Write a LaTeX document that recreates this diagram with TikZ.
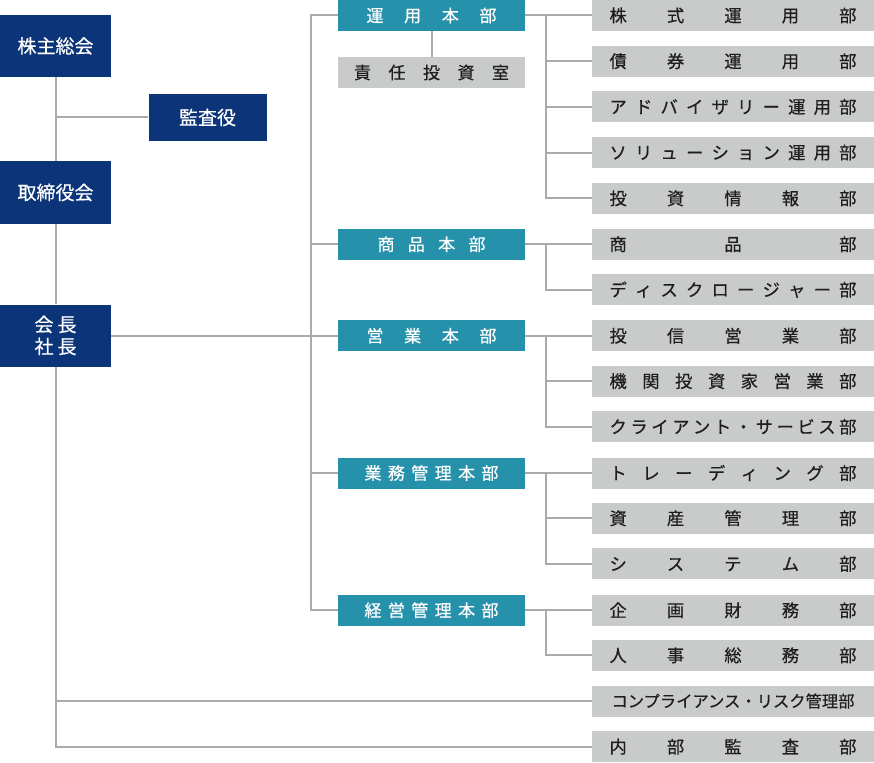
\documentclass[tikz,border=0pt]{standalone}
\usepackage{fontspec}
\setmainfont{Noto Sans CJK JP}[FakeBold=0.5]
\usetikzlibrary{calc}

\definecolor{hqblue}{HTML}{0C3479}
\definecolor{deptteal}{HTML}{2591AB}
\definecolor{unitgray}{HTML}{C9CACA}
\definecolor{linegray}{HTML}{AAAAAA}
\definecolor{textdark}{HTML}{1E1E1E}

% spread the characters of #2 evenly over width #1
\makeatletter
\newcommand\spread[2]{\makebox[#1][s]{\spread@loop#2\relax}}
\def\spread@loop#1#2{#1\ifx\relax#2\else\hfill\expandafter\spread@loop\expandafter#2\fi}
\makeatother

\tikzset{link/.style={draw=linegray, line width=2pt}}

\begin{document}
\begin{tikzpicture}[x=1pt,y=-1pt]
      \useasboundingbox (0,0) rectangle (874,762);

      \begin{scope}[every node/.style={fill=hqblue, text=white, inner sep=0pt,
          minimum width=111pt, minimum height=62pt, font=\fontsize{19}{22}\selectfont}]
        \node (gm)    at (55.5,46)    {株主総会};
        \node[minimum width=118pt, minimum height=47pt] (audit) at (207.5,117.5) {監査役};
        \node (board) at (55.5,192.5) {取締役会};
        \node[align=center] (ceo) at (55.5,335.5) {会\hspace{4pt}長\\社\hspace{4pt}長};
      \end{scope}

      \begin{scope}[every node/.style={fill=deptteal, text=white, inner sep=0pt,
          minimum width=187pt, minimum height=31pt, font=\fontsize{17}{20}\selectfont}]
        \node (unyo)   at (431.5,15.5)   {\spread{130pt}{運用本部}};
        \node (shohin) at (431.5,244.25) {\spread{108pt}{商品本部}};
        \node (eigyo)  at (431.5,335.75) {\spread{130pt}{営業本部}};
        \node (gyomu)  at (431.5,473)    {\spread{134pt}{業務管理本部}};
        \node (keiei)  at (431.5,610.25) {\spread{134pt}{経営管理本部}};
        \node[fill=unitgray, text=textdark] (sekinin) at (431.5,72.5) {\spread{155pt}{責任投資室}};
      \end{scope}

      \begin{scope}[every node/.style={fill=unitgray, text=textdark, inner sep=0pt,
          minimum width=282pt, minimum height=31pt, font=\fontsize{17.3}{20}\selectfont}]
        \node (kabu)    at (733,15.5)   {\spread{247pt}{株式運用部}};
        \node (saiken)  at (733,61.2)   {\spread{247pt}{債券運用部}};
        \node (adv)     at (733,106.9)  {\spread{247pt}{アドバイザリー運用部}};
        \node (sol)     at (733,152.6)  {\spread{247pt}{ソリューション運用部}};
        \node (joho)    at (733,198.3)  {\spread{247pt}{投資情報部}};
        \node (shohinbu) at (733,244.25) {\spread{247pt}{商品部}};
        \node (disc)    at (733,289.7)  {\spread{247pt}{ディスクロージャー部}};
        \node (toshin)  at (733,335.75) {\spread{247pt}{投信営業部}};
        \node (kikan)   at (733,381.1)  {\spread{247pt}{機関投資家営業部}};
        \node (client)  at (733,426.8)  {\spread{247pt}{クライアント・サービス部}};
        \node (trading) at (733,473)    {\spread{247pt}{トレーディング部}};
        \node (shisan)  at (733,518.2)  {\spread{247pt}{資産管理部}};
        \node (system)  at (733,563.9)  {\spread{247pt}{システム部}};
        \node (kikaku)  at (733,610.25) {\spread{247pt}{企画財務部}};
        \node (jinji)   at (733,655.3)  {\spread{247pt}{人事総務部}};
        \node[font=\fontsize{16.3}{20}\selectfont] (comp) at (733,701) {コンプライアンス・リスク管理部};
        \node (naibu)   at (733,746.7)  {\spread{247pt}{内部監査部}};
      \end{scope}

      \coordinate (tspine) at (311,0);
      \coordinate (sub)    at (546,0);

      % left column
      \draw[link] (gm.south) -- (board.north);
      \draw[link] (audit.west) -- (audit.west -| gm.south);
      \draw[link] (board.south) -- (ceo.north);
      \draw[link] (ceo.south) |- (naibu.west);
      \draw[link] (ceo.south |- comp.west) -- (comp.west);
      \draw[link] (ceo.east |- eigyo.west) -- (eigyo.west);

      % divisions
      \draw[link] (unyo.west) -- (unyo.west -| tspine) -- (keiei.west -| tspine) -- (keiei.west);
      \foreach \n in {shohin,eigyo,gyomu}
        \draw[link] (\n.west -| tspine) -- (\n.west);
      \draw[link] (unyo.south) -- (sekinin.north);

      % departments
      \draw[link] (unyo.east) -- (kabu.west);
      \draw[link] (unyo.east -| sub) |- (joho.west);
      \foreach \n in {saiken,adv,sol}
        \draw[link] (\n.west -| sub) -- (\n.west);
      \draw[link] (shohin.east) -- (shohinbu.west);
      \draw[link] (shohin.east -| sub) |- (disc.west);
      \draw[link] (eigyo.east) -- (toshin.west);
      \draw[link] (eigyo.east -| sub) |- (client.west);
      \draw[link] (kikan.west -| sub) -- (kikan.west);
      \draw[link] (gyomu.east) -- (trading.west);
      \draw[link] (gyomu.east -| sub) |- (system.west);
      \draw[link] (shisan.west -| sub) -- (shisan.west);
      \draw[link] (keiei.east) -- (kikaku.west);
      \draw[link] (keiei.east -| sub) |- (jinji.west);

    \end{tikzpicture}
\end{document}
